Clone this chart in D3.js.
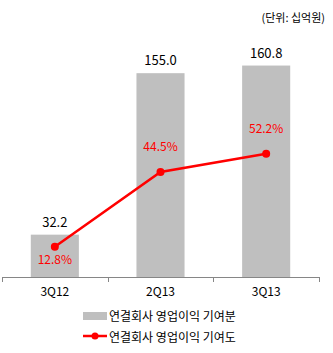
<!DOCTYPE html>
<html><head><meta charset="utf-8">
<script src="https://cdn.jsdelivr.net/npm/d3@7/dist/d3.min.js"></script>
<style>body{margin:0;background:#fff}svg{display:block}text{font-family:"Noto Sans CJK KR","Malgun Gothic",sans-serif}</style>
</head><body><svg id="c" width="333" height="353"></svg>
<script>
const categories = ["3Q12", "2Q13", "3Q13"];
const barValues = [32.2, 155.0, 160.8];
const pctValues = [12.8, 44.5, 52.2];
const pctLabels = ["12.8%", "44.5%", "52.2%"];
const barLabels = ["32.2", "155.0", "160.8"];
const legendNames = ["연결회사 영업이익 기여분", "연결회사 영업이익 기여도"];
const unitLabel = "(단위: 십억원)";

const svg = d3.select("#c");
const x = d3.scaleBand().domain(categories).range([2, 319]).paddingInner(0.545).paddingOuter(0.2725);
const y = d3.scaleLinear().domain([0, 200]).range([277, 14]);
const yp = d3.scaleLinear().domain([0, 100]).range([277, 41]);
const red = "#FF0000";

// bars
svg.selectAll("rect.bar").data(categories).enter().append("rect")
  .attr("x", d => x(d)).attr("width", x.bandwidth())
  .attr("y", (d,i) => y(barValues[i])).attr("height", (d,i) => y(0) - y(barValues[i]))
  .attr("fill", "#BFBFBF");

// axis
const ax = svg.append("g").attr("transform", "translate(0,277)")
  .call(d3.axisBottom(x).tickSize(0).tickPadding(10));
ax.select(".domain").attr("stroke", "#868686").attr("d", "M2,0.5H319");
ax.selectAll("text").attr("font-size", 12).attr("fill", "#000")
  .attr("font-family", '"Noto Sans CJK KR",sans-serif');
const edges = d3.range(categories.length + 1).map(i => 2 + i * x.step());
svg.selectAll("line.tk").data(edges).enter().append("line")
  .attr("x1", d => Math.round(d) + 0.5).attr("x2", d => Math.round(d) + 0.5)
  .attr("y1", 277).attr("y2", 282).attr("stroke", "#868686");

// bar labels
svg.selectAll("text.bl").data(categories).enter().append("text")
  .attr("x", d => x(d) + x.bandwidth()/2).attr("y", (d,i) => y(barValues[i]) - 8)
  .attr("text-anchor", "middle").attr("font-size", 13).attr("fill", "#000")
  .text((d,i) => barLabels[i]);

// line
const cx = d => x(d) + x.bandwidth()/2;
svg.append("path").datum(categories)
  .attr("d", d3.line().x(d => cx(d)).y((d,i) => yp(pctValues[i])))
  .attr("fill", "none").attr("stroke", red).attr("stroke-width", 2.5);
svg.selectAll("circle.m").data(categories).enter().append("circle")
  .attr("cx", d => cx(d)).attr("cy", (d,i) => yp(pctValues[i])).attr("r", 4).attr("fill", red);
svg.selectAll("text.pl").data(categories).enter().append("text")
  .attr("x", d => cx(d)).attr("y", (d,i) => i === 0 ? yp(pctValues[i]) + 17 : yp(pctValues[i]) - 21)
  .attr("text-anchor", "middle").attr("font-size", 12).attr("fill", red)
  .text((d,i) => pctLabels[i]);

// unit
svg.append("text").attr("x", 325).attr("y", 22).attr("text-anchor", "end")
  .attr("font-size", 11).attr("fill", "#000").text(unitLabel);

// legend
svg.append("rect").attr("x", 83).attr("y", 312).attr("width", 24).attr("height", 8).attr("fill", "#BFBFBF");
svg.append("text").attr("x", 109).attr("y", 321).attr("font-size", 12).attr("fill", "#000").text(legendNames[0]);
svg.append("line").attr("x1", 83).attr("x2", 107).attr("y1", 336).attr("y2", 336).attr("stroke", red).attr("stroke-width", 2.5);
svg.append("circle").attr("cx", 95).attr("cy", 336).attr("r", 3.5).attr("fill", red);
svg.append("text").attr("x", 109).attr("y", 342).attr("font-size", 12).attr("fill", "#000").text(legendNames[1]);
</script></body></html>
